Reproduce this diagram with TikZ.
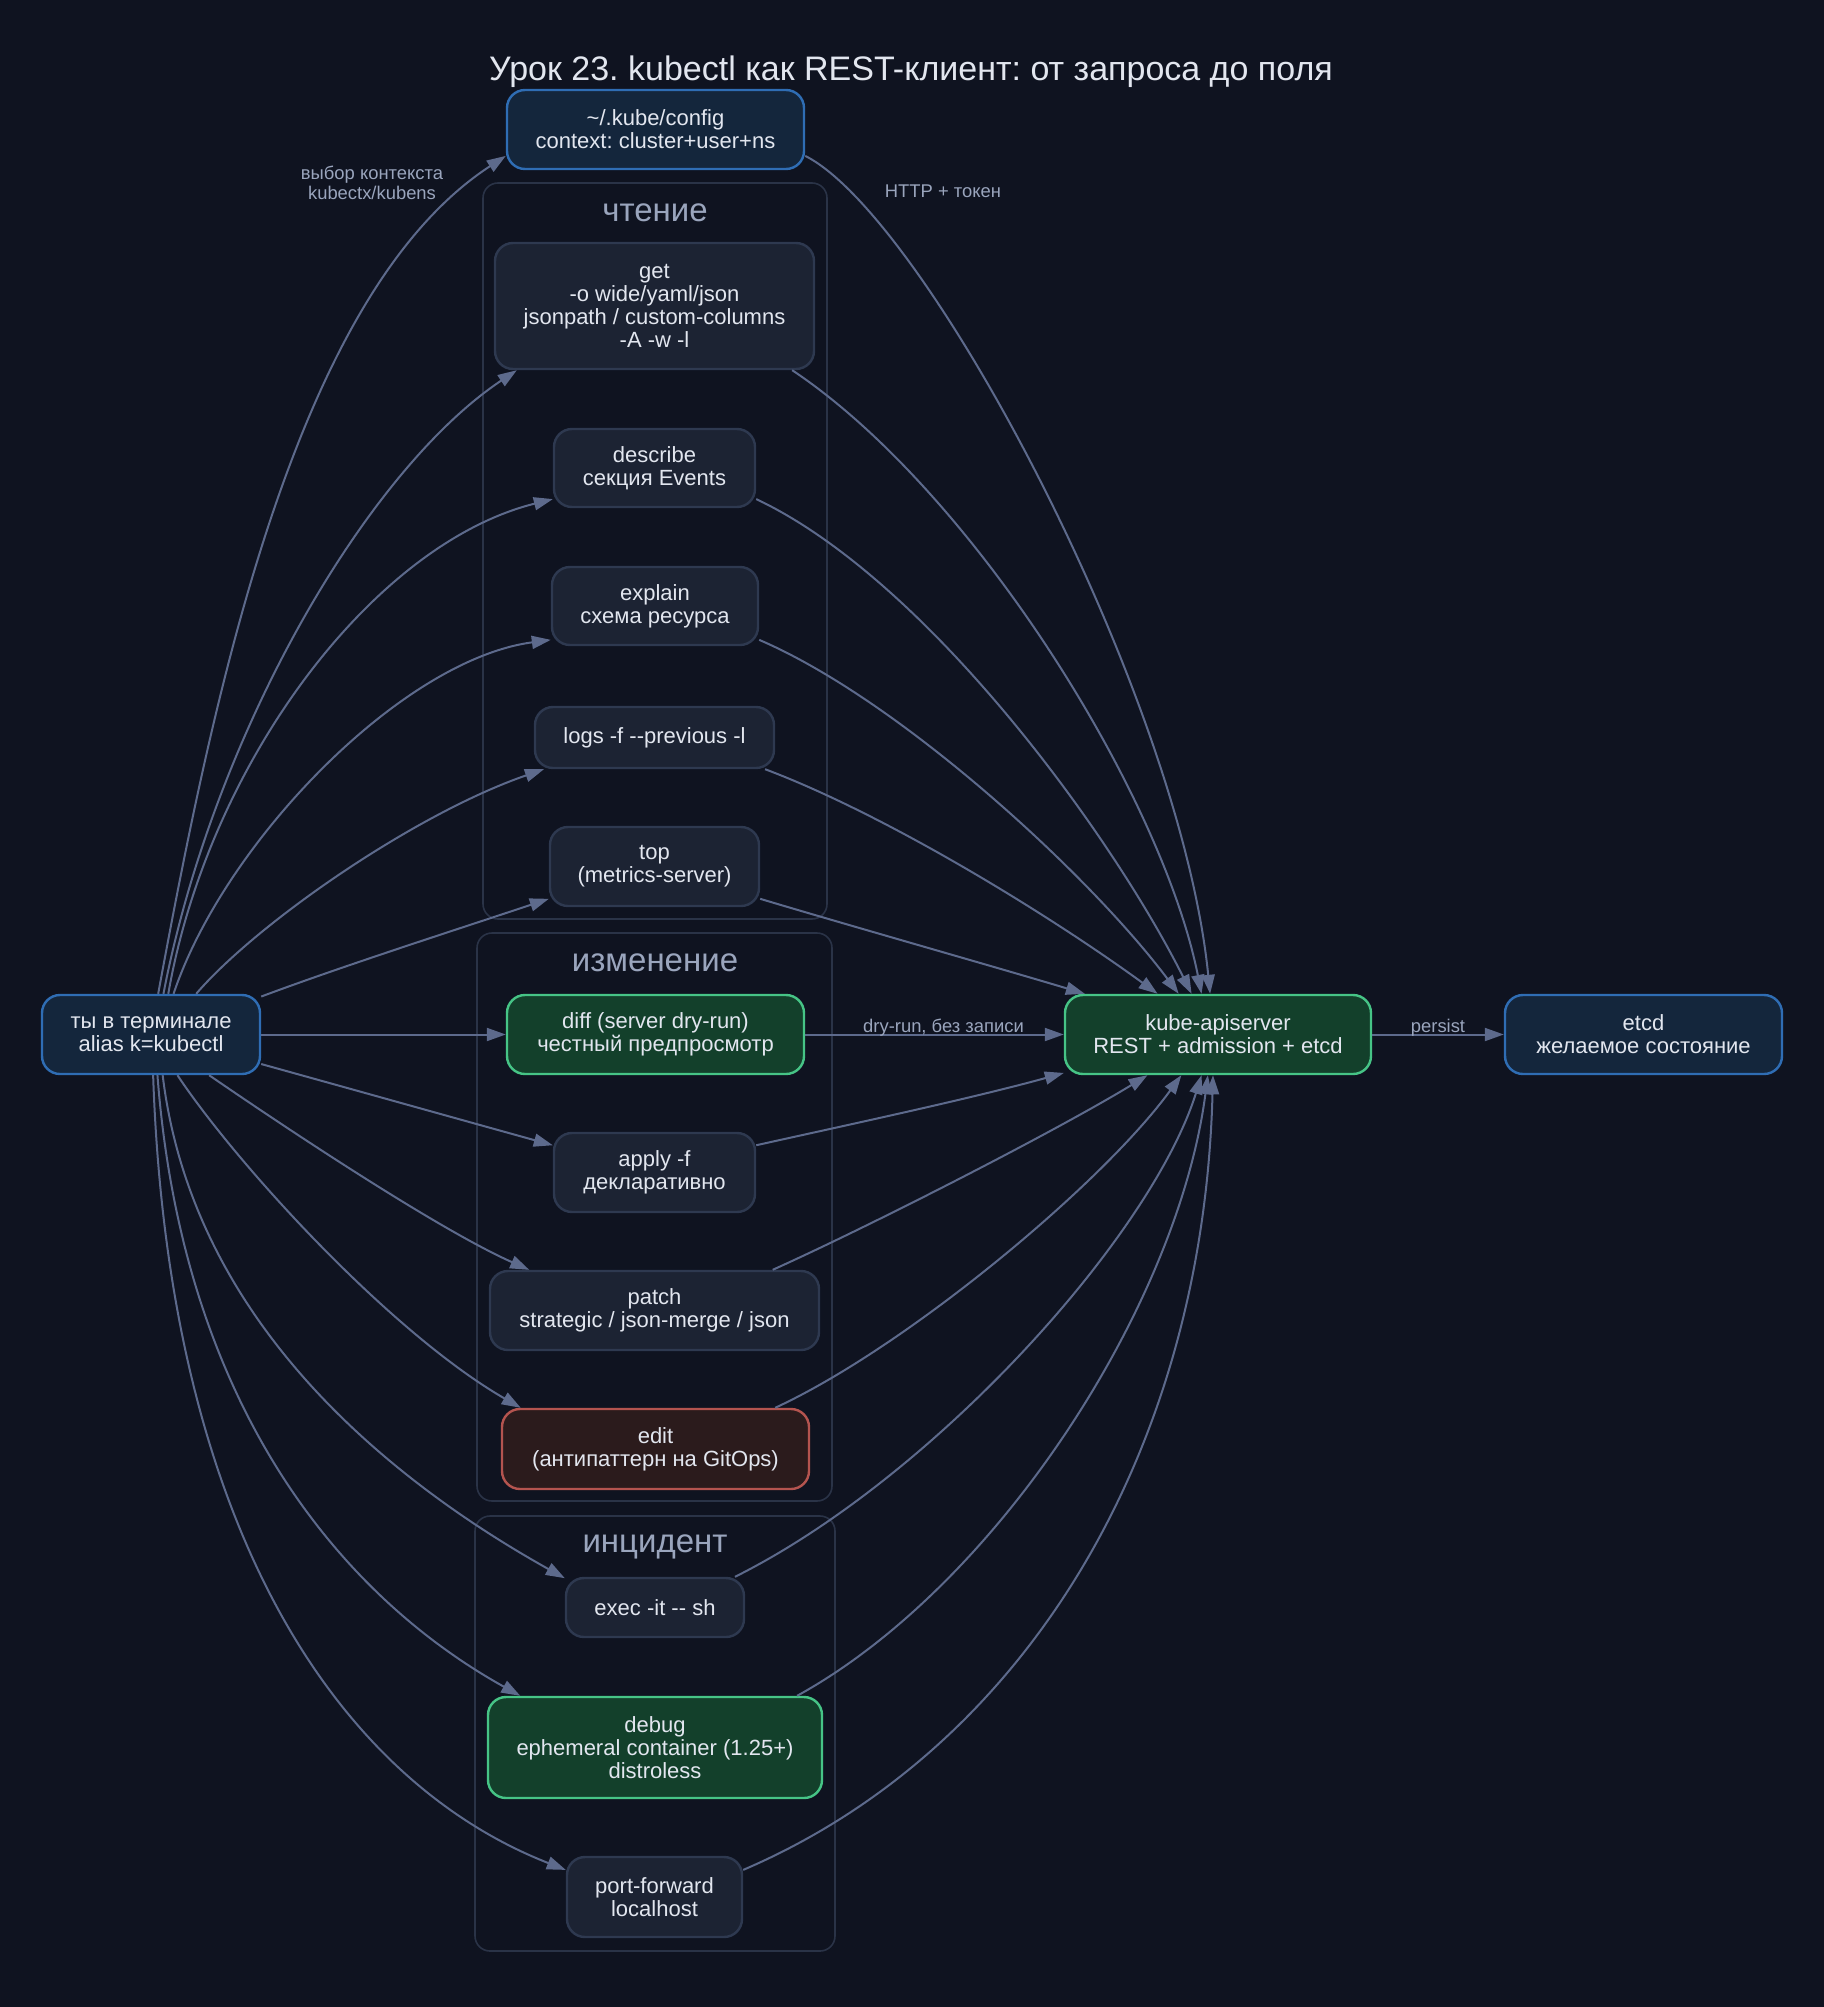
\documentclass[tikz,border=0pt]{standalone}
\usepackage{fontspec}
\setmainfont{Liberation Sans}
\usetikzlibrary{arrows.meta}
\frenchspacing
\definecolor{bg}{HTML}{0F1320}
\definecolor{boxfill}{HTML}{1C2333}
\definecolor{boxline}{HTML}{2E3950}
\definecolor{bluefill}{HTML}{14263C}
\definecolor{blueline}{HTML}{2F6DB4}
\definecolor{greenfill}{HTML}{13402B}
\definecolor{greenline}{HTML}{46C486}
\definecolor{redfill}{HTML}{2B1B1C}
\definecolor{redline}{HTML}{B4544F}
\definecolor{wire}{HTML}{5D6A8C}
\definecolor{grpline}{HTML}{2A3347}
\definecolor{dimtext}{HTML}{9AA5BD}
\definecolor{nodetext}{HTML}{E2E6EF}

\tikzset{
  nodebox/.style={draw=boxline, fill=boxfill, rounded corners=9pt, line width=1.2pt,
    align=center, text=nodetext, inner sep=0pt, font=\fontsize{11}{11.4}\selectfont},
  bluebox/.style={nodebox, draw=blueline, fill=bluefill},
  greenbox/.style={nodebox, draw=greenline, fill=greenfill},
  redbox/.style={nodebox, draw=redline, fill=redfill},
  link/.style={draw=wire, line width=1pt, -{Triangle[length=9.5pt, width=6.5pt]}},
  elabel/.style={text=dimtext, align=center, inner sep=1pt, font=\fontsize{9.2}{10}\selectfont},
  grp/.style={draw=grpline, line width=0.8pt, rounded corners=7.5pt},
  grplabel/.style={text=dimtext, font=\fontsize{16.5}{18}\selectfont}
}

\begin{document}
\begin{tikzpicture}[x=0.5pt, y=-0.5pt]
  \fill[bg] (0,0) rectangle (1824,2007);

  % groups
  \draw[grp] (483,183) rectangle (827,919);
  \draw[grp] (477,933) rectangle (832,1501);
  \draw[grp] (475,1516) rectangle (835,1951);
  \node[grplabel] (gread) at (655,213) {чтение};
  \node[grplabel] (gchange) at (655,963) {изменение};
  \node[grplabel] (gincident) at (655,1547) {инцидент};

  \node[text=nodetext, font=\fontsize{17}{20}\selectfont] (title) at (911,72)
    {Урок 23. kubectl как REST-клиент: от запроса до поля};

  \node[bluebox, minimum width=109pt, minimum height=39.5pt] (term) at (151,1034.5) {ты в терминале\\alias k=kubectl};
  \node[bluebox, minimum width=148.5pt, minimum height=39.5pt] (cfg) at (655.5,129.5) {\textasciitilde/.kube/config\\context: cluster+user+ns};

  \node[nodebox, minimum width=159.5pt, minimum height=63pt] (get) at (654.5,306) {get\\-o wide/yaml/json\\jsonpath / custom-columns\\-A -w -l};
  \node[nodebox, minimum width=100.5pt, minimum height=39pt] (desc) at (654.5,468) {describe\\секция Events};
  \node[nodebox, minimum width=103pt, minimum height=39pt] (expl) at (655,606) {explain\\схема ресурса};
  \node[nodebox, minimum width=119.5pt, minimum height=30.5pt] (logs) at (654.5,737.5) {logs -f -{}-previous -l};
  \node[nodebox, minimum width=104.5pt, minimum height=39.5pt] (top) at (654.5,866.5) {top\\(metrics-server)};

  \node[greenbox, minimum width=148.5pt, minimum height=39.5pt] (diff) at (655.5,1034.5) {diff (server dry-run)\\честный предпросмотр};
  \node[nodebox, minimum width=100.5pt, minimum height=39.5pt] (apply) at (654.5,1172.5) {apply -f\\декларативно};
  \node[nodebox, minimum width=164.5pt, minimum height=39.5pt] (patch) at (654.5,1310.5) {patch\\strategic / json-merge / json};
  \node[redbox, minimum width=153.5pt, minimum height=40pt] (edit) at (655.5,1449) {edit\\(антипаттерн на GitOps)};

  \node[nodebox, minimum width=89pt, minimum height=29.5pt] (exec) at (655,1607.5) {exec -it -{}- sh};
  \node[greenbox, minimum width=167pt, minimum height=50.5pt] (dbg) at (655,1747.5) {debug\\ephemeral container (1.25+)\\distroless};
  \node[nodebox, minimum width=87.5pt, minimum height=40pt] (pf) at (654.5,1897) {port-forward\\localhost};

  \node[greenbox, minimum width=153pt, minimum height=39.5pt] (api) at (1218,1034.5) {kube-apiserver\\REST + admission + etcd};
  \node[bluebox, minimum width=138.5pt, minimum height=39.5pt] (etcd) at (1643.5,1034.5) {etcd\\желаемое состояние};

  % from the terminal
  \draw[link] (term.80) .. controls +(58,-315) and +(-207,135) .. (cfg.190);
  \draw[link] (term.73) .. controls +(50,-260) and +(-150,100) .. (get.205);
  \draw[link] (term.67) .. controls +(40,-230) and +(-180,45) .. (desc.197);
  \draw[link] (term.61) .. controls +(50,-150) and +(-150,20) .. (expl.198);
  \draw[link] (term.42) .. controls +(60,-70) and +(-130,45) .. (logs.196);
  \draw[link] (term.19) .. controls +(80,-30) and +(-90,30) .. (top.197);
  \draw[link] (term) -- (diff);
  \draw[link] (term.345) .. controls +(90,25) and +(-90,-25) .. (apply.165);
  \draw[link] (term.325) .. controls +(80,55) and +(-90,-40) .. (patch.162);
  \draw[link] (term.303) .. controls +(60,90) and +(-130,-75) .. (edit.163);
  \draw[link] (term.286) .. controls +(30,250) and +(-170,-95) .. (exec.162);
  \draw[link] (term.279) .. controls +(25,330) and +(-180,-100) .. (dbg.159);
  \draw[link] (term.273) .. controls +(15,450) and +(-230,-90) .. (pf.163);

  % to the apiserver
  \draw[link] (cfg.350) .. controls +(120,60) and +(-30,-300) .. (api.101);
  \draw[link] (get.335) .. controls +(180,120) and +(-40,-200) .. (api.112);
  \draw[link] (desc.343) .. controls +(170,80) and +(-80,-160) .. (api.123);
  \draw[link] (expl.342) .. controls +(140,60) and +(-90,-120) .. (api.134);
  \draw[link] (logs.344) .. controls +(120,45) and +(-110,-80) .. (api.146);
  \draw[link] (top.343) .. controls +(90,27) and +(-90,-27) .. (api.163);
  \draw[link] (diff) -- node[elabel, above, xshift=4.5pt, yshift=-2.5pt] {dry-run, без записи} (api);
  \draw[link] (apply.15) .. controls +(90,-20) and +(-90,25) .. (api.194);
  \draw[link] (patch.19) .. controls +(100,-45) and +(-90,55) .. (api.210);
  \draw[link] (edit.19) .. controls +(130,-60) and +(-80,110) .. (api.228);
  \draw[link] (exec.21) .. controls +(200,-100) and +(-50,160) .. (api.248);
  \draw[link] (dbg.20) .. controls +(200,-110) and +(-30,230) .. (api.256);
  \draw[link] (pf.17) .. controls +(280,-120) and +(-10,380) .. (api.263);
  \draw[link] (api) -- node[elabel, above, yshift=-2.5pt] {persist} (etcd);

  \node[elabel] (lblctx) at (372,183) {выбор контекста\\kubectx/kubens};
  \node[elabel] (lblhttp) at (943,191) {HTTP + токен};
\end{tikzpicture}
\end{document}
